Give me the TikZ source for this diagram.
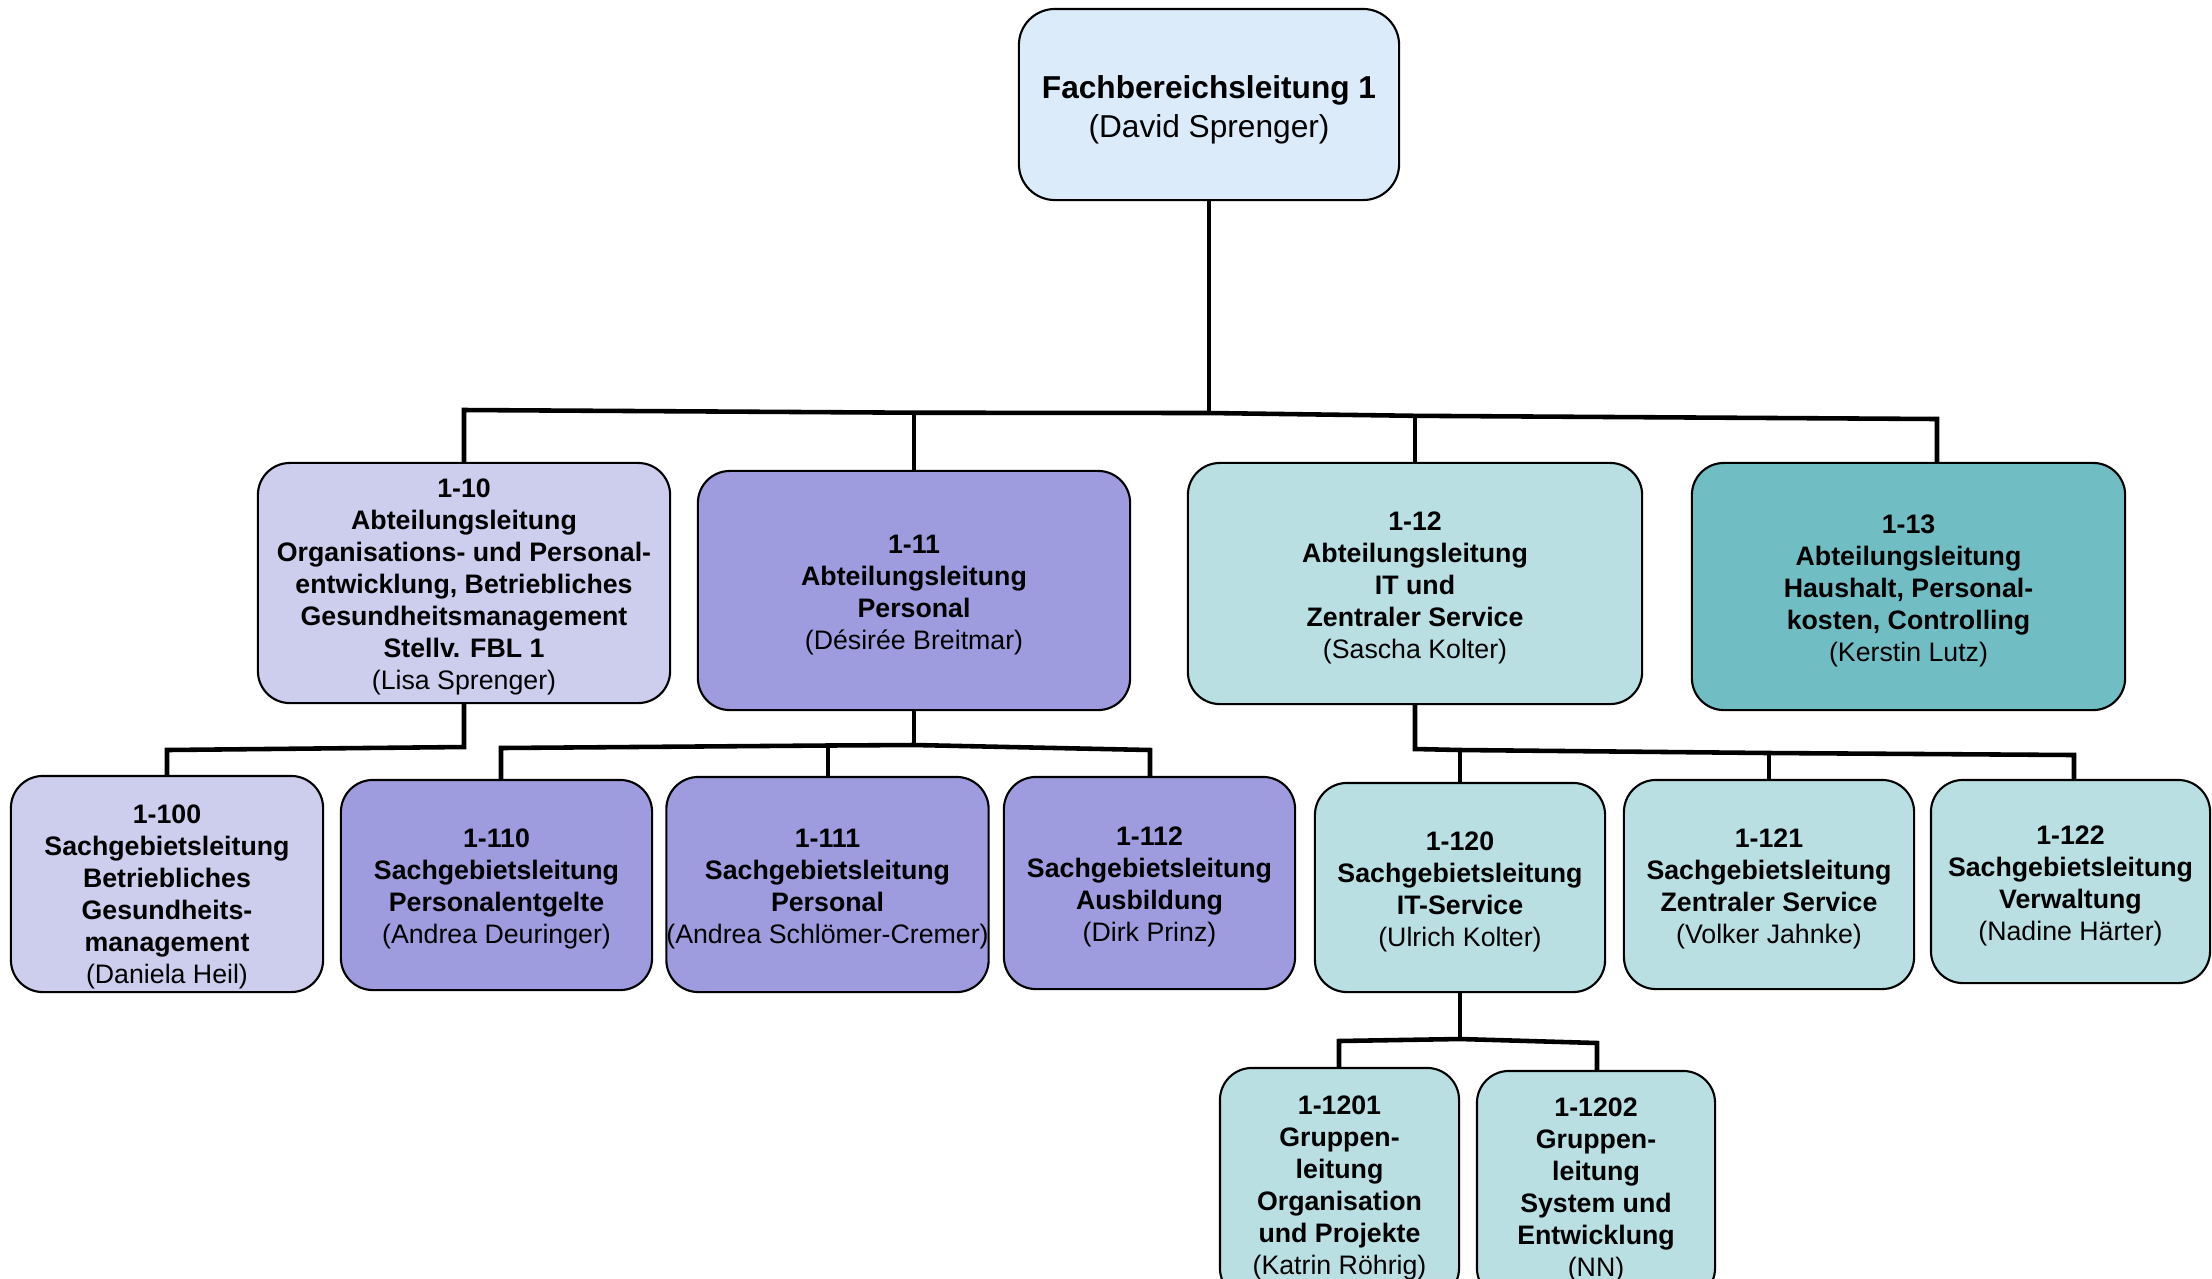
\documentclass[tikz,border=0pt]{standalone}
\usepackage{fontspec}
\setmainfont{Liberation Sans}
\definecolor{ctop}{HTML}{DCEBFA}
\definecolor{clav}{HTML}{CDCDEE}
\definecolor{cpur}{HTML}{9E9CDE}
\definecolor{cteal}{HTML}{B9DFE2}
\definecolor{cdteal}{HTML}{70BEC4}
\newcommand\mystrut[1][7.7pt]{\rule{0pt}{#1}}
\tikzset{
  box/.style={draw=black, line width=0.6pt, rounded corners=0.32cm, align=center, inner sep=0pt,
    font=\fontsize{7.6}{9.1}\selectfont},
  topbox/.style={box, rounded corners=0.36cm, font=\fontsize{9}{11}\selectfont},
  link/.style={line width=1.3pt, line join=miter},
}
\begin{document}
\begin{tikzpicture}[x=0.01cm,y=-0.01cm]
\useasboundingbox (0,0) rectangle (2212,1278);
\clip (0,0) rectangle (2212,1278);
\fill[white] (0,0) rectangle (2212,1278);

% junction points of the connectors
\coordinate (jtop) at (1209,413);
\coordinate (j10) at (464,410);
\coordinate (j11) at (914,412.7);
\coordinate (j12) at (1415,415.8);
\coordinate (j13) at (1937,419);
\coordinate (k10) at (464,747);
\coordinate (k100) at (167,750);
\coordinate (k11) at (914,745);
\coordinate (k110) at (501,748);
\coordinate (k111) at (828,745.5);
\coordinate (k112) at (1150,750);
\coordinate (k12) at (1415,749);
\coordinate (k120) at (1460,750);
\coordinate (k121) at (1769,753);
\coordinate (k122) at (2074,755);
\coordinate (m120) at (1460,1039);
\coordinate (m1201) at (1339,1041);
\coordinate (m1202) at (1597,1043);

% boxes
\node[topbox, fill=ctop, minimum width=3.8cm, minimum height=1.91cm] (top) at (1209,104.5)
  {\mystrut[9.4pt]\textbf{Fachbereichsleitung 1}\\(David Sprenger)};

\node[box, fill=clav, minimum width=4.12cm, minimum height=2.40cm] (b10) at (464,583)
  {\mystrut\textbf{1-10}\\\textbf{Abteilungsleitung}\\\textbf{Organisations- und Personal-}\\\textbf{entwicklung, Betriebliches}\\\textbf{Gesundheitsmanagement}\\\textbf{Stellv. FBL 1}\\(Lisa Sprenger)};
\node[box, fill=cpur, minimum width=4.32cm, minimum height=2.39cm] (b11) at (914,590.5)
  {\mystrut\textbf{1-11}\\\textbf{Abteilungsleitung}\\\textbf{Personal}\\(Désirée Breitmar)};
\node[box, fill=cteal, minimum width=4.54cm, minimum height=2.41cm] (b12) at (1415,583.5)
  {\mystrut\textbf{1-12}\\\textbf{Abteilungsleitung}\\\textbf{IT und}\\\textbf{Zentraler Service}\\(Sascha Kolter)};
\node[box, fill=cdteal, minimum width=4.33cm, minimum height=2.47cm] (b13) at (1908.5,586.5)
  {\mystrut\textbf{1-13}\\\textbf{Abteilungsleitung}\\\textbf{Haushalt, Personal-}\\\textbf{kosten, Controlling}\\(Kerstin Lutz)};

\node[box, fill=clav, minimum width=3.12cm, minimum height=2.16cm] (b100) at (167,884)
  {\mystrut[12.8pt]\textbf{1-100}\\\textbf{Sachgebietsleitung}\\\textbf{Betriebliches}\\\textbf{Gesundheits-}\\\textbf{management}\\(Daniela Heil)};
\node[box, fill=cpur, minimum width=3.11cm, minimum height=2.10cm] (b110) at (496.5,885)
  {\mystrut\textbf{1-110}\\\textbf{Sachgebietsleitung}\\\textbf{Personalentgelte}\\(Andrea Deuringer)};
\node[box, fill=cpur, minimum width=3.15cm, minimum height=2.15cm] (b111) at (827.5,884.5)
  {\mystrut\textbf{1-111}\\\textbf{Sachgebietsleitung}\\\textbf{Personal}\\(Andrea Schlömer-Cremer)};
\node[box, fill=cpur, minimum width=2.91cm, minimum height=2.12cm] (b112) at (1149.5,883)
  {\mystrut\textbf{1-112}\\\textbf{Sachgebietsleitung}\\\textbf{Ausbildung}\\(Dirk Prinz)};
\node[box, fill=cteal, minimum width=2.90cm, minimum height=2.09cm] (b120) at (1460,887.5)
  {\mystrut\textbf{1-120}\\\textbf{Sachgebietsleitung}\\\textbf{IT-Service}\\(Ulrich Kolter)};
\node[box, fill=cteal, minimum width=2.90cm, minimum height=2.09cm] (b121) at (1769,884.5)
  {\mystrut\textbf{1-121}\\\textbf{Sachgebietsleitung}\\\textbf{Zentraler Service}\\(Volker Jahnke)};
\node[box, fill=cteal, minimum width=2.79cm, minimum height=2.03cm] (b122) at (2070.5,881.5)
  {\mystrut\textbf{1-122}\\\textbf{Sachgebietsleitung}\\\textbf{Verwaltung}\\(Nadine Härter)};

\node[box, fill=cteal, minimum width=2.39cm, minimum height=2.32cm] (b1201) at (1339.5,1184)
  {\mystrut\textbf{1-1201}\\\textbf{Gruppen-}\\\textbf{leitung}\\\textbf{Organisation}\\\textbf{und Projekte}\\(Katrin Röhrig)};
\node[box, fill=cteal, minimum width=2.38cm, minimum height=2.29cm] (b1202) at (1596,1185.5)
  {\mystrut\textbf{1-1202}\\\textbf{Gruppen-}\\\textbf{leitung}\\\textbf{System und}\\\textbf{Entwicklung}\\(NN)};

% connectors
\draw[link] (top.south) -- (jtop);
\draw[link] (b10.north) -- (j10) -- (j11) -- (jtop) -- (j12) -- (j13) -- (b13.north -| j13);
\draw[link] (j11) -- (b11.north);
\draw[link] (j12) -- (b12.north);

\draw[link] (b10.south) -- (k10) -- (k100) -- (b100.north);

\draw[link] (b11.south) -- (k11);
\draw[link] (b110.north -| k110) -- (k110) -- (k111) -- (k11) -- (k112) -- (b112.north -| k112);
\draw[link] (k111) -- (b111.north -| k111);

\draw[link] (b12.south) -- (k12) -- (k120) -- (k121) -- (k122) -- (b122.north -| k122);
\draw[link] (k120) -- (b120.north);
\draw[link] (k121) -- (b121.north -| k121);

\draw[link] (b120.south) -- (m120);
\draw[link] (b1201.north -| m1201) -- (m1201) -- (m120) -- (m1202) -- (b1202.north -| m1202);
\end{tikzpicture}
\end{document}
